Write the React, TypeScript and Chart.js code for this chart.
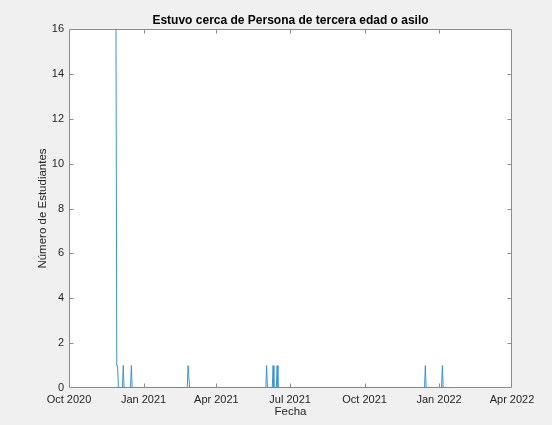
import React, { useEffect, useRef } from 'react';
import { Chart, registerables } from 'chart.js';

Chart.register(...registerables);

const TITLE = 'Estuvo cerca de Persona de tercera edad o asilo';
const X_LABEL = 'Fecha';
const Y_LABEL = 'Número de Estudiantes';

// x values are days since 1 Oct 2020
const X_MIN = 0;
const X_MAX = 547;
const TICK_DAYS = [0, 92, 182, 273, 365, 457, 547];
const TICK_LABELS = ['Oct 2020', 'Jan 2021', 'Apr 2021', 'Jul 2021', 'Oct 2021', 'Jan 2022', 'Apr 2022'];
const Y_MAX = 16;
const Y_STEP = 2;

const DAYS = [58, 59, 60, 61, 66, 67, 68, 76, 77, 78, 146, 147, 148, 149, 243, 244, 245, 251, 252, 253, 256, 257, 258, 439, 440, 441, 460, 461, 462, 470];
const VALUES = [16, 1, 1, 0, 0, 1, 0, 0, 1, 0, 0, 1, 1, 0, 0, 1, 0, 0, 1, 0, 0, 1, 0, 0, 1, 0, 0, 1, 0, 0];

const FONT = '"Liberation Sans", Arial, Helvetica, sans-serif';
const TEXT = '#262626';

const framePlugin = {
  id: 'matlabFrame',
  beforeDraw(chart: any) {
    const { ctx, chartArea: a, width, height } = chart;
    ctx.save();
    ctx.fillStyle = '#f0f0f0';
    ctx.fillRect(0, 0, width, height);
    ctx.fillStyle = '#ffffff';
    ctx.fillRect(a.left, a.top, a.right - a.left, a.bottom - a.top);
    ctx.restore();
  },
  beforeDatasetsDraw(chart: any) {
    const { ctx, chartArea: a } = chart;
    const xs = chart.scales.x;
    const ys = chart.scales.y;
    const tl = 4;
    ctx.save();
    ctx.strokeStyle = '#8c8c8c';
    ctx.lineWidth = 1;
    ctx.beginPath();
    const L = Math.round(a.left) + 0.5;
    const R = Math.round(a.right) - 0.5;
    const T = Math.round(a.top) + 0.5;
    const B = Math.round(a.bottom) - 0.5;
    ctx.moveTo(L, T);
    ctx.lineTo(R, T);
    ctx.lineTo(R, B);
    ctx.lineTo(L, B);
    ctx.closePath();
    for (let i = 1; i < TICK_DAYS.length - 1; i++) {
      const px = Math.round(xs.getPixelForValue(TICK_DAYS[i])) + 0.5;
      ctx.moveTo(px, B);
      ctx.lineTo(px, B - tl);
      ctx.moveTo(px, T);
      ctx.lineTo(px, T + tl);
    }
    for (let v = Y_STEP; v < Y_MAX; v += Y_STEP) {
      const py = Math.round(ys.getPixelForValue(v)) + 0.5;
      ctx.moveTo(L, py);
      ctx.lineTo(L + tl, py);
      ctx.moveTo(R, py);
      ctx.lineTo(R - tl, py);
    }
    ctx.stroke();
    ctx.restore();
  },
  afterDraw(chart: any) {
    const { ctx, chartArea: a } = chart;
    ctx.save();
    ctx.font = 'bold 12px ' + FONT;
    ctx.fillStyle = '#000000';
    ctx.textAlign = 'center';
    ctx.textBaseline = 'middle';
    ctx.fillText(TITLE, (a.left + a.right) / 2, 21);
    ctx.restore();
  },
};

export default function App() {
  const ref = useRef<HTMLCanvasElement | null>(null);

  useEffect(() => {
    if (!ref.current) return;
    const chart = new Chart(ref.current, {
      type: 'line',
      data: {
        datasets: [
          {
            data: DAYS.map((d, i) => ({ x: d, y: VALUES[i] })),
            borderColor: '#3b93d3',
            borderWidth: 1,
            pointRadius: 0,
            tension: 0,
            fill: false,
          },
        ],
      },
      options: {
        animation: false,
        responsive: false,
        maintainAspectRatio: false,
        layout: { padding: { top: 29, right: 40, left: 0, bottom: 0 } },
        plugins: {
          legend: { display: false },
          tooltip: { enabled: false },
          title: { display: false },
        },
        scales: {
          x: {
            type: 'linear',
            min: X_MIN,
            max: X_MAX,
            afterBuildTicks: (s: any) => {
              s.ticks = TICK_DAYS.map((v) => ({ value: v }));
            },
            ticks: {
              autoSkip: false,
              maxRotation: 0,
              minRotation: 0,
              padding: 5,
              color: TEXT,
              font: { family: FONT, size: 11 },
              callback: (v: any) => {
                const i = TICK_DAYS.indexOf(Number(v));
                return i >= 0 ? TICK_LABELS[i] : '';
              },
            },
            grid: { display: false, drawTicks: false, tickLength: 0 },
            border: { display: false },
            title: {
              display: true,
              text: X_LABEL,
              color: TEXT,
              font: { family: FONT, size: 11.5 },
              padding: { top: 0, bottom: 6 },
            },
            afterFit: (s: any) => {
              s.height = 37;
            },
          },
          y: {
            type: 'linear',
            min: 0,
            max: Y_MAX,
            ticks: {
              stepSize: Y_STEP,
              padding: 5,
              color: TEXT,
              font: { family: FONT, size: 11 },
            },
            grid: { display: false, drawTicks: false, tickLength: 0 },
            border: { display: false },
            title: {
              display: true,
              text: Y_LABEL,
              color: TEXT,
              font: { family: FONT, size: 11.5 },
              padding: { top: 36, bottom: 0 },
            },
            afterFit: (s: any) => {
              s.width = 69;
            },
          },
        },
      },
      plugins: [framePlugin],
    } as any);
    return () => chart.destroy();
  }, []);

  return (
    <div style={{ position: 'fixed', left: 0, top: 0, width: 552, height: 425, background: '#f0f0f0' }}>
      <canvas ref={ref} width={552} height={425} style={{ display: 'block', width: 552, height: 425 }} />
    </div>
  );
}
